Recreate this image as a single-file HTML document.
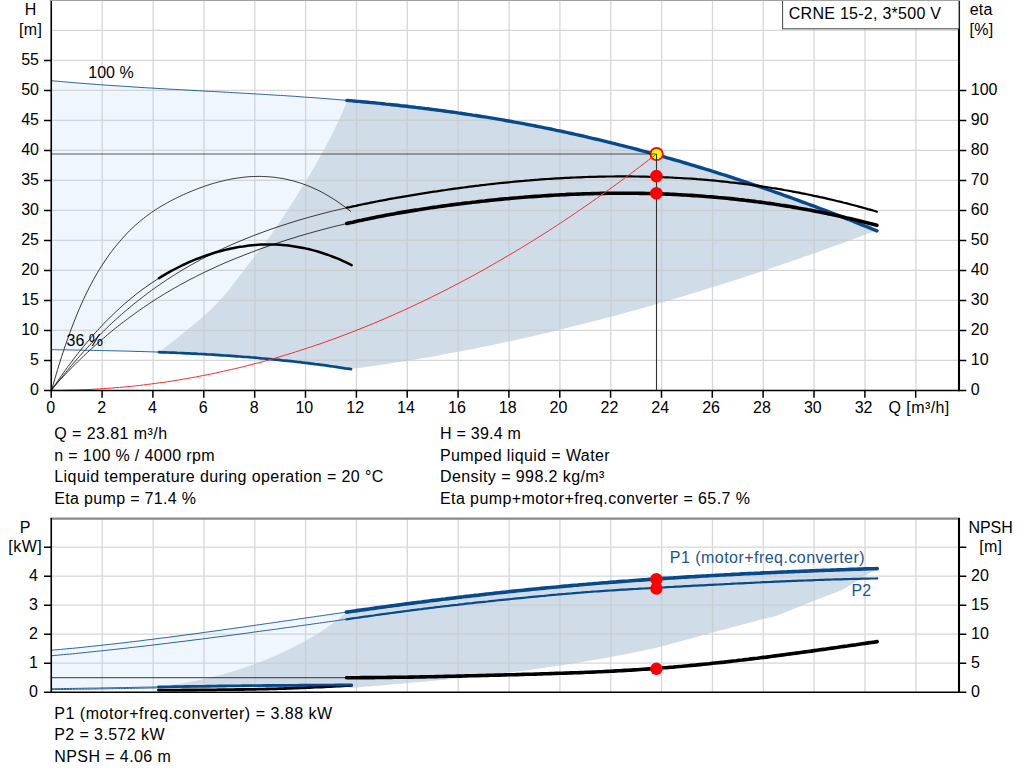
<!DOCTYPE html>
<html lang="en"><head><meta charset="utf-8"><title>CRNE 15-2 pump curve</title>
<style>
html,body{margin:0;padding:0;background:#fff;}
body{width:1024px;height:781px;overflow:hidden;font-family:"Liberation Sans",Arial,Helvetica,sans-serif;}
svg{display:block;position:absolute;left:0;top:0;}
text{font-family:"Liberation Sans",Arial,Helvetica,sans-serif;font-size:16px;}
</style></head><body>
<svg width="1024" height="781" viewBox="0 0 1024 781" role="img" aria-label="Pump performance curves">
<rect x="0" y="0" width="1024" height="781" fill="#ffffff"/>
<path d="M51.6 80.7 L54.6 81.0 L57.6 81.2 L60.6 81.5 L63.7 81.8 L66.7 82.0 L69.7 82.3 L72.7 82.6 L75.7 82.8 L78.7 83.1 L81.7 83.3 L84.7 83.5 L87.8 83.8 L90.8 84.0 L93.8 84.2 L96.8 84.5 L99.8 84.7 L102.8 84.9 L105.8 85.1 L108.9 85.3 L111.9 85.5 L114.9 85.7 L117.9 85.9 L120.9 86.1 L123.9 86.3 L126.9 86.5 L129.9 86.7 L133.0 86.9 L136.0 87.1 L139.0 87.3 L142.0 87.5 L145.0 87.7 L148.0 87.9 L151.0 88.0 L154.1 88.2 L157.1 88.4 L160.1 88.6 L163.1 88.7 L166.1 88.9 L169.1 89.1 L172.1 89.3 L175.1 89.4 L178.2 89.6 L181.2 89.8 L184.2 89.9 L187.2 90.1 L190.2 90.3 L193.2 90.4 L196.2 90.6 L199.2 90.8 L202.3 90.9 L205.3 91.1 L208.3 91.3 L211.3 91.4 L214.3 91.6 L217.3 91.7 L220.3 91.9 L223.4 92.1 L226.4 92.2 L229.4 92.4 L232.4 92.6 L235.4 92.8 L238.4 92.9 L241.4 93.1 L244.4 93.3 L247.5 93.4 L250.5 93.6 L253.5 93.8 L256.5 94.0 L259.5 94.1 L262.5 94.3 L265.5 94.5 L268.6 94.7 L271.6 94.9 L274.6 95.1 L277.6 95.3 L280.6 95.4 L283.6 95.6 L286.6 95.8 L289.6 96.0 L292.7 96.2 L295.7 96.4 L298.7 96.6 L301.7 96.9 L304.7 97.1 L307.7 97.3 L310.7 97.5 L313.8 97.7 L316.8 97.9 L319.8 98.2 L322.8 98.4 L325.8 98.6 L328.8 98.9 L331.8 99.1 L334.8 99.4 L337.9 99.6 L340.9 99.9 L343.9 100.1 L346.9 100.4 L345.7 104.6 L344.0 108.6 L342.2 112.7 L340.4 116.7 L338.5 120.8 L336.6 124.8 L334.7 128.9 L332.7 133.0 L330.6 137.0 L328.5 141.1 L326.4 145.1 L324.2 149.2 L322.0 153.3 L319.7 157.3 L317.4 161.4 L315.1 165.4 L312.7 169.5 L310.4 173.5 L307.9 177.6 L305.5 181.7 L303.0 185.7 L300.5 189.8 L298.0 193.8 L295.4 197.9 L292.8 202.0 L290.2 206.0 L287.6 210.1 L285.0 214.1 L282.3 218.2 L279.6 222.2 L276.8 226.3 L274.0 230.4 L271.2 234.4 L268.3 238.5 L265.3 242.5 L262.2 246.6 L259.0 250.6 L255.9 254.7 L252.7 258.8 L249.5 262.8 L246.4 266.9 L243.3 270.9 L240.2 275.0 L237.2 279.1 L234.1 283.1 L231.0 287.2 L227.7 291.2 L224.3 295.3 L220.7 299.3 L216.9 303.4 L212.9 307.5 L208.6 311.5 L204.2 315.6 L199.6 319.6 L194.8 323.7 L189.9 327.8 L184.9 331.8 L179.8 335.9 L174.7 339.9 L169.4 344.0 L164.2 348.0 L159.0 352.1 L159.0 352.1 L156.0 352.0 L153.0 351.9 L150.1 351.8 L147.1 351.7 L144.1 351.6 L141.1 351.5 L138.1 351.5 L135.1 351.4 L132.2 351.3 L129.2 351.2 L126.2 351.1 L123.2 351.0 L120.2 351.0 L117.2 350.9 L114.2 350.8 L111.3 350.8 L108.3 350.7 L105.3 350.6 L102.3 350.6 L99.3 350.5 L96.3 350.4 L93.4 350.4 L90.4 350.3 L87.4 350.3 L84.4 350.2 L81.4 350.2 L78.5 350.1 L75.5 350.1 L72.5 350.0 L69.5 350.0 L66.5 349.9 L63.5 349.9 L60.5 349.8 L57.6 349.8 L54.6 349.7 L51.6 349.7 Z" fill="#eff6fd"/>
<path d="M51.6 650.2 L54.6 649.9 L57.6 649.7 L60.6 649.4 L63.6 649.1 L66.6 648.8 L69.7 648.5 L72.7 648.3 L75.7 648.0 L78.7 647.7 L81.7 647.4 L84.7 647.1 L87.7 646.7 L90.7 646.4 L93.7 646.1 L96.7 645.8 L99.7 645.5 L102.8 645.1 L105.8 644.8 L108.8 644.5 L111.8 644.1 L114.8 643.8 L117.8 643.5 L120.8 643.1 L123.8 642.8 L126.8 642.4 L129.8 642.0 L132.8 641.7 L135.9 641.3 L138.9 641.0 L141.9 640.6 L144.9 640.2 L147.9 639.8 L150.9 639.5 L153.9 639.1 L156.9 638.7 L159.9 638.3 L162.9 637.9 L165.9 637.6 L169.0 637.2 L172.0 636.8 L175.0 636.4 L178.0 636.0 L181.0 635.6 L184.0 635.2 L187.0 634.8 L190.0 634.4 L193.0 634.0 L196.0 633.6 L199.0 633.2 L202.1 632.8 L205.1 632.3 L208.1 631.9 L211.1 631.5 L214.1 631.1 L217.1 630.7 L220.1 630.3 L223.1 629.8 L226.1 629.4 L229.1 629.0 L232.2 628.6 L235.2 628.1 L238.2 627.7 L241.2 627.3 L244.2 626.9 L247.2 626.4 L250.2 626.0 L253.2 625.6 L256.2 625.1 L259.2 624.7 L262.2 624.3 L265.3 623.8 L268.3 623.4 L271.3 623.0 L274.3 622.5 L277.3 622.1 L280.3 621.7 L283.3 621.2 L286.3 620.8 L289.3 620.4 L292.3 619.9 L295.3 619.5 L298.4 619.0 L301.4 618.6 L304.4 618.2 L307.4 617.7 L310.4 617.3 L313.4 616.9 L316.4 616.4 L319.4 616.0 L322.4 615.6 L325.4 615.1 L328.4 614.7 L331.5 614.3 L334.5 613.8 L337.5 613.4 L340.5 613.0 L343.5 612.6 L346.5 612.1 L342.5 615.6 L338.5 618.9 L334.5 622.1 L330.5 625.0 L326.5 627.8 L322.5 630.5 L318.5 633.0 L314.5 635.5 L310.5 637.8 L306.5 640.1 L302.5 642.4 L298.5 644.5 L294.5 646.6 L290.5 648.6 L286.5 650.6 L282.5 652.4 L278.5 654.3 L274.5 656.0 L270.5 657.8 L266.5 659.4 L262.5 661.0 L258.5 662.6 L254.5 664.1 L250.4 665.5 L246.4 666.9 L242.4 668.3 L238.4 669.6 L234.4 670.9 L230.4 672.1 L226.4 673.3 L222.4 674.4 L218.4 675.4 L214.4 676.5 L210.4 677.5 L206.4 678.4 L202.4 679.3 L198.4 680.2 L194.4 681.0 L190.4 681.8 L186.4 682.5 L182.4 683.2 L178.4 683.8 L174.4 684.5 L170.4 685.0 L166.4 685.6 L162.4 686.1 L158.4 686.8 L158.4 686.9 L155.4 687.0 L152.5 687.0 L149.5 687.1 L146.5 687.1 L143.6 687.2 L140.6 687.2 L137.6 687.3 L134.7 687.4 L131.7 687.4 L128.7 687.5 L125.8 687.5 L122.8 687.6 L119.8 687.6 L116.9 687.7 L113.9 687.7 L110.9 687.8 L108.0 687.8 L105.0 687.9 L102.0 687.9 L99.1 688.0 L96.1 688.1 L93.1 688.1 L90.2 688.1 L87.2 688.2 L84.2 688.2 L81.3 688.3 L78.3 688.3 L75.3 688.4 L72.4 688.4 L69.4 688.5 L66.4 688.5 L63.5 688.5 L60.5 688.6 L57.5 688.6 L54.6 688.7 L51.6 688.7 Z" fill="#eff6fd"/>
<path d="M346.9 100.4 L349.9 100.6 L352.9 100.9 L355.9 101.2 L358.9 101.4 L361.9 101.7 L364.9 102.0 L367.9 102.3 L370.9 102.6 L373.8 102.8 L376.8 103.1 L379.8 103.4 L382.8 103.7 L385.8 104.1 L388.8 104.4 L391.8 104.7 L394.8 105.0 L397.8 105.3 L400.8 105.7 L403.8 106.0 L406.8 106.3 L409.8 106.7 L412.8 107.0 L415.8 107.4 L418.8 107.7 L421.8 108.1 L424.8 108.5 L427.7 108.8 L430.7 109.2 L433.7 109.6 L436.7 110.0 L439.7 110.4 L442.7 110.8 L445.7 111.2 L448.7 111.6 L451.7 112.0 L454.7 112.4 L457.7 112.9 L460.7 113.3 L463.7 113.7 L466.7 114.2 L469.7 114.6 L472.7 115.1 L475.7 115.5 L478.7 116.0 L481.6 116.5 L484.6 116.9 L487.6 117.4 L490.6 117.9 L493.6 118.4 L496.6 118.9 L499.6 119.4 L502.6 119.9 L505.6 120.5 L508.6 121.0 L511.6 121.5 L514.6 122.1 L517.6 122.6 L520.6 123.1 L523.6 123.7 L526.6 124.3 L529.6 124.8 L532.5 125.4 L535.5 126.0 L538.5 126.6 L541.5 127.2 L544.5 127.8 L547.5 128.4 L550.5 129.0 L553.5 129.6 L556.5 130.3 L559.5 130.9 L562.5 131.5 L565.5 132.2 L568.5 132.8 L571.5 133.5 L574.5 134.2 L577.5 134.8 L580.5 135.5 L583.5 136.2 L586.4 136.9 L589.4 137.6 L592.4 138.3 L595.4 139.0 L598.4 139.7 L601.4 140.4 L604.4 141.1 L607.4 141.9 L610.4 142.6 L613.4 143.4 L616.4 144.1 L619.4 144.9 L622.4 145.6 L625.4 146.4 L628.4 147.2 L631.4 147.9 L634.4 148.7 L637.4 149.5 L640.3 150.3 L643.3 151.1 L646.3 151.9 L649.3 152.7 L652.3 153.6 L655.3 154.4 L658.3 155.2 L661.3 156.1 L664.3 156.9 L667.3 157.8 L670.3 158.6 L673.3 159.5 L676.3 160.3 L679.3 161.2 L682.3 162.1 L685.3 163.0 L688.3 163.9 L691.3 164.8 L694.2 165.7 L697.2 166.6 L700.2 167.5 L703.2 168.4 L706.2 169.3 L709.2 170.2 L712.2 171.2 L715.2 172.1 L718.2 173.1 L721.2 174.0 L724.2 175.0 L727.2 175.9 L730.2 176.9 L733.2 177.9 L736.2 178.9 L739.2 179.8 L742.2 180.8 L745.1 181.8 L748.1 182.8 L751.1 183.8 L754.1 184.9 L757.1 185.9 L760.1 186.9 L763.1 187.9 L766.1 189.0 L769.1 190.0 L772.1 191.0 L775.1 192.1 L778.1 193.1 L781.1 194.2 L784.1 195.3 L787.1 196.3 L790.1 197.4 L793.1 198.5 L796.1 199.6 L799.0 200.7 L802.0 201.8 L805.0 202.9 L808.0 204.0 L811.0 205.1 L814.0 206.2 L817.0 207.3 L820.0 208.5 L823.0 209.6 L826.0 210.7 L829.0 211.9 L832.0 213.0 L835.0 214.2 L838.0 215.4 L841.0 216.5 L844.0 217.7 L847.0 218.9 L850.0 220.0 L852.9 221.2 L855.9 222.4 L858.9 223.6 L861.9 224.8 L864.9 226.0 L867.9 227.2 L870.9 228.4 L873.9 229.7 L876.9 230.9 L872.9 231.8 L868.9 233.3 L864.9 234.8 L860.8 236.3 L856.8 237.8 L852.8 239.3 L848.8 240.8 L844.8 242.2 L840.8 243.7 L836.8 245.2 L832.7 246.6 L828.7 248.1 L824.7 249.5 L820.7 250.9 L816.7 252.4 L812.7 253.8 L808.7 255.2 L804.6 256.6 L800.6 258.0 L796.6 259.4 L792.6 260.8 L788.6 262.2 L784.6 263.6 L780.6 265.0 L776.5 266.3 L772.5 267.7 L768.5 269.1 L764.5 270.4 L760.5 271.7 L756.5 273.1 L752.5 274.4 L748.4 275.7 L744.4 277.0 L740.4 278.4 L736.4 279.7 L732.4 281.0 L728.4 282.2 L724.3 283.5 L720.3 284.8 L716.3 286.1 L712.3 287.3 L708.3 288.6 L704.3 289.8 L700.3 291.1 L696.2 292.3 L692.2 293.5 L688.2 294.7 L684.2 295.9 L680.2 297.1 L676.2 298.3 L672.2 299.5 L668.1 300.7 L664.1 301.9 L660.1 303.1 L656.1 304.2 L652.1 305.4 L648.1 306.5 L644.1 307.7 L640.0 308.8 L636.0 309.9 L632.0 311.0 L628.0 312.1 L624.0 313.2 L620.0 314.3 L616.0 315.4 L611.9 316.5 L607.9 317.6 L603.9 318.6 L599.9 319.7 L595.9 320.7 L591.9 321.8 L587.9 322.8 L583.8 323.8 L579.8 324.8 L575.8 325.8 L571.8 326.8 L567.8 327.8 L563.8 328.8 L559.8 329.8 L555.7 330.8 L551.7 331.7 L547.7 332.7 L543.7 333.6 L539.7 334.6 L535.7 335.5 L531.7 336.4 L527.6 337.3 L523.6 338.2 L519.6 339.1 L515.6 340.0 L511.6 340.9 L507.6 341.8 L503.6 342.6 L499.5 343.5 L495.5 344.3 L491.5 345.2 L487.5 346.0 L483.5 346.8 L479.5 347.6 L475.4 348.4 L471.4 349.2 L467.4 350.0 L463.4 350.8 L459.4 351.6 L455.4 352.3 L451.4 353.1 L447.3 353.8 L443.3 354.6 L439.3 355.3 L435.3 356.0 L431.3 356.7 L427.3 357.4 L423.3 358.1 L419.2 358.8 L415.2 359.5 L411.2 360.1 L407.2 360.8 L403.2 361.4 L399.2 362.1 L395.2 362.7 L391.1 363.3 L387.1 363.9 L383.1 364.5 L379.1 365.1 L375.1 365.7 L371.1 366.3 L367.1 366.8 L363.0 367.4 L359.0 367.9 L355.0 368.5 L351.0 369.1 L351.0 369.2 L348.0 368.7 L345.0 368.3 L342.0 367.8 L339.0 367.4 L336.0 366.9 L333.0 366.5 L330.0 366.1 L327.0 365.6 L324.0 365.2 L321.0 364.8 L318.0 364.4 L315.0 364.1 L312.0 363.7 L309.0 363.3 L306.0 362.9 L303.0 362.6 L300.0 362.2 L297.0 361.9 L294.0 361.5 L291.0 361.2 L288.0 360.9 L285.0 360.6 L282.0 360.3 L279.0 359.9 L276.0 359.7 L273.0 359.4 L270.0 359.1 L267.0 358.8 L264.0 358.5 L261.0 358.3 L258.0 358.0 L255.0 357.7 L252.0 357.5 L249.0 357.2 L246.0 357.0 L243.0 356.8 L240.0 356.5 L237.0 356.3 L234.0 356.1 L231.0 355.9 L228.0 355.7 L225.0 355.5 L222.0 355.3 L219.0 355.1 L216.0 354.9 L213.0 354.7 L210.0 354.5 L207.0 354.4 L204.0 354.2 L201.0 354.0 L198.0 353.9 L195.0 353.7 L192.0 353.6 L189.0 353.4 L186.0 353.3 L183.0 353.1 L180.0 353.0 L177.0 352.9 L174.0 352.7 L171.0 352.6 L168.0 352.5 L165.0 352.4 L162.0 352.3 L159.0 352.1 L164.2 348.0 L169.4 344.0 L174.7 339.9 L179.8 335.9 L184.9 331.8 L189.9 327.8 L194.8 323.7 L199.6 319.6 L204.2 315.6 L208.6 311.5 L212.9 307.5 L216.9 303.4 L220.7 299.3 L224.3 295.3 L227.7 291.2 L231.0 287.2 L234.1 283.1 L237.2 279.1 L240.2 275.0 L243.3 270.9 L246.4 266.9 L249.5 262.8 L252.7 258.8 L255.9 254.7 L259.0 250.6 L262.2 246.6 L265.3 242.5 L268.3 238.5 L271.2 234.4 L274.0 230.4 L276.8 226.3 L279.6 222.2 L282.3 218.2 L285.0 214.1 L287.6 210.1 L290.2 206.0 L292.8 202.0 L295.4 197.9 L298.0 193.8 L300.5 189.8 L303.0 185.7 L305.5 181.7 L307.9 177.6 L310.4 173.5 L312.7 169.5 L315.1 165.4 L317.4 161.4 L319.7 157.3 L322.0 153.3 L324.2 149.2 L326.4 145.1 L328.5 141.1 L330.6 137.0 L332.7 133.0 L334.7 128.9 L336.6 124.8 L338.5 120.8 L340.4 116.7 L342.2 112.7 L344.0 108.6 L345.7 104.6 L346.9 100.5 Z" fill="#d0dce8"/>
<path d="M346.5 612.1 L349.5 611.7 L352.5 611.3 L355.5 610.9 L358.5 610.4 L361.5 610.0 L364.5 609.6 L367.5 609.2 L370.5 608.8 L373.5 608.4 L376.5 607.9 L379.5 607.5 L382.5 607.1 L385.5 606.7 L388.5 606.3 L391.5 605.9 L394.5 605.5 L397.5 605.1 L400.5 604.7 L403.5 604.3 L406.5 603.9 L409.5 603.5 L412.5 603.1 L415.5 602.7 L418.5 602.3 L421.5 602.0 L424.5 601.6 L427.5 601.2 L430.5 600.8 L433.5 600.4 L436.4 600.1 L439.4 599.7 L442.4 599.3 L445.4 599.0 L448.4 598.6 L451.4 598.2 L454.4 597.9 L457.4 597.5 L460.4 597.1 L463.4 596.8 L466.4 596.4 L469.4 596.1 L472.4 595.7 L475.4 595.4 L478.4 595.1 L481.4 594.7 L484.4 594.4 L487.4 594.0 L490.4 593.7 L493.4 593.4 L496.4 593.0 L499.4 592.7 L502.4 592.4 L505.4 592.1 L508.4 591.7 L511.4 591.4 L514.4 591.1 L517.4 590.8 L520.4 590.5 L523.4 590.2 L526.4 589.9 L529.4 589.6 L532.4 589.3 L535.4 589.0 L538.4 588.7 L541.4 588.4 L544.4 588.1 L547.4 587.8 L550.4 587.5 L553.4 587.2 L556.4 587.0 L559.4 586.7 L562.4 586.4 L565.4 586.1 L568.4 585.9 L571.4 585.6 L574.4 585.3 L577.4 585.1 L580.4 584.8 L583.4 584.5 L586.4 584.3 L589.4 584.0 L592.4 583.8 L595.4 583.5 L598.4 583.3 L601.4 583.0 L604.4 582.8 L607.4 582.6 L610.4 582.3 L613.3 582.1 L616.3 581.9 L619.3 581.6 L622.3 581.4 L625.3 581.2 L628.3 581.0 L631.3 580.7 L634.3 580.5 L637.3 580.3 L640.3 580.1 L643.3 579.9 L646.3 579.7 L649.3 579.4 L652.3 579.2 L655.3 579.0 L658.3 578.8 L661.3 578.6 L664.3 578.4 L667.3 578.2 L670.3 578.0 L673.3 577.9 L676.3 577.7 L679.3 577.5 L682.3 577.3 L685.3 577.1 L688.3 576.9 L691.3 576.7 L694.3 576.6 L697.3 576.4 L700.3 576.2 L703.3 576.0 L706.3 575.9 L709.3 575.7 L712.3 575.5 L715.3 575.4 L718.3 575.2 L721.3 575.0 L724.3 574.9 L727.3 574.7 L730.3 574.6 L733.3 574.4 L736.3 574.2 L739.3 574.1 L742.3 573.9 L745.3 573.8 L748.3 573.6 L751.3 573.5 L754.3 573.4 L757.3 573.2 L760.3 573.1 L763.3 572.9 L766.3 572.8 L769.3 572.7 L772.3 572.5 L775.3 572.4 L778.3 572.2 L781.3 572.1 L784.3 572.0 L787.3 571.9 L790.2 571.7 L793.2 571.6 L796.2 571.5 L799.2 571.4 L802.2 571.2 L805.2 571.1 L808.2 571.0 L811.2 570.9 L814.2 570.8 L817.2 570.6 L820.2 570.5 L823.2 570.4 L826.2 570.3 L829.2 570.2 L832.2 570.1 L835.2 570.0 L838.2 569.9 L841.2 569.8 L844.2 569.7 L847.2 569.5 L850.2 569.4 L853.2 569.3 L856.2 569.2 L859.2 569.1 L862.2 569.0 L865.2 568.9 L868.2 568.8 L871.2 568.7 L874.2 568.7 L877.2 568.6 L865.0 576.0 L841.5 590.2 L814.1 600.8 L775.9 616.0 L763.3 619.1 L712.4 632.4 L661.6 646.5 L657.6 647.5 L653.5 648.4 L649.5 649.3 L645.5 650.1 L641.5 651.0 L637.4 651.8 L633.4 652.6 L629.4 653.4 L625.4 654.2 L621.3 655.0 L617.3 655.8 L613.3 656.5 L609.3 657.3 L605.2 658.0 L601.2 658.7 L597.2 659.4 L593.2 660.1 L589.1 660.8 L585.1 661.5 L581.1 662.2 L577.1 662.8 L573.0 663.5 L569.0 664.1 L565.0 664.7 L561.0 665.3 L556.9 665.9 L552.9 666.5 L548.9 667.1 L544.8 667.7 L540.8 668.3 L536.8 668.8 L532.8 669.4 L528.7 669.9 L524.7 670.5 L520.7 671.0 L516.7 671.5 L512.6 672.0 L508.6 672.5 L504.6 673.0 L500.6 673.5 L496.5 674.0 L492.5 674.5 L488.5 674.9 L484.5 675.4 L480.4 675.9 L476.4 676.3 L472.4 676.7 L468.4 677.2 L464.3 677.6 L460.3 678.0 L456.3 678.4 L452.2 678.9 L448.2 679.3 L444.2 679.7 L440.2 680.1 L436.1 680.5 L432.1 680.8 L428.1 681.2 L424.1 681.6 L420.0 682.0 L416.0 682.3 L412.0 682.7 L408.0 683.1 L403.9 683.4 L399.9 683.8 L395.9 684.1 L391.9 684.5 L387.8 684.8 L383.8 685.2 L379.8 685.5 L375.8 685.8 L371.7 686.2 L367.7 686.5 L363.7 686.8 L359.7 687.2 L355.6 687.5 L351.6 687.9 L351.6 687.7 L348.6 687.6 L345.6 687.6 L342.5 687.6 L339.5 687.6 L336.5 687.5 L333.5 687.5 L330.5 687.5 L327.5 687.4 L324.4 687.4 L321.4 687.4 L318.4 687.4 L315.4 687.3 L312.4 687.3 L309.3 687.3 L306.3 687.2 L303.3 687.2 L300.3 687.2 L297.3 687.2 L294.2 687.2 L291.2 687.1 L288.2 687.1 L285.2 687.1 L282.2 687.1 L279.2 687.0 L276.1 687.0 L273.1 687.0 L270.1 687.0 L267.1 687.0 L264.1 687.0 L261.0 686.9 L258.0 686.9 L255.0 686.9 L252.0 686.9 L249.0 686.9 L245.9 686.9 L242.9 686.9 L239.9 686.9 L236.9 686.9 L233.9 686.8 L230.9 686.8 L227.8 686.8 L224.8 686.8 L221.8 686.8 L218.8 686.8 L215.8 686.8 L212.7 686.8 L209.7 686.8 L206.7 686.8 L203.7 686.8 L200.7 686.8 L197.6 686.8 L194.6 686.8 L191.6 686.8 L188.6 686.8 L185.6 686.8 L182.6 686.8 L179.5 686.8 L176.5 686.9 L173.5 686.9 L170.5 686.9 L167.5 686.9 L164.4 686.9 L161.4 686.9 L158.4 686.9 L162.4 686.1 L166.4 685.6 L170.4 685.0 L174.4 684.5 L178.4 683.8 L182.4 683.2 L186.4 682.5 L190.4 681.8 L194.4 681.0 L198.4 680.2 L202.4 679.3 L206.4 678.4 L210.4 677.5 L214.4 676.5 L218.4 675.4 L222.4 674.4 L226.4 673.3 L230.4 672.1 L234.4 670.9 L238.4 669.6 L242.4 668.3 L246.4 666.9 L250.4 665.5 L254.5 664.1 L258.5 662.6 L262.5 661.0 L266.5 659.4 L270.5 657.8 L274.5 656.0 L278.5 654.3 L282.5 652.4 L286.5 650.6 L290.5 648.6 L294.5 646.6 L298.5 644.5 L302.5 642.4 L306.5 640.1 L310.5 637.8 L314.5 635.5 L318.5 633.0 L322.5 630.5 L326.5 627.8 L330.5 625.0 L334.5 622.1 L338.5 618.9 L342.5 615.6 L346.5 611.6 Z" fill="#d0dce8"/>
<path d="M102.2 0V390.4M102.2 518.4V692.2M153.1 0V390.4M153.1 518.4V692.2M204.0 0V390.4M204.0 518.4V692.2M254.8 0V390.4M254.8 518.4V692.2M305.6 0V390.4M305.6 518.4V692.2M356.5 0V390.4M356.5 518.4V692.2M407.3 0V390.4M407.3 518.4V692.2M458.2 0V390.4M458.2 518.4V692.2M509.1 0V390.4M509.1 518.4V692.2M559.9 0V390.4M559.9 518.4V692.2M610.8 0V390.4M610.8 518.4V692.2M661.6 0V390.4M661.6 518.4V692.2M712.5 0V390.4M712.5 518.4V692.2M763.3 0V390.4M763.3 518.4V692.2M814.1 0V390.4M814.1 518.4V692.2M865.0 0V390.4M865.0 518.4V692.2M915.9 0V390.4M915.9 518.4V692.2M51.6 360.4H959.0M51.6 330.4H959.0M51.6 300.4H959.0M51.6 270.4H959.0M51.6 240.4H959.0M51.6 210.4H959.0M51.6 180.4H959.0M51.6 150.4H959.0M51.6 120.4H959.0M51.6 90.4H959.0M51.6 60.4H959.0M51.6 30.4H959.0M51.6 663.2H959.0M51.6 634.2H959.0M51.6 605.2H959.0M51.6 576.2H959.0M51.6 547.2H959.0" stroke="rgb(198,201,204)" stroke-opacity="0.74" stroke-width="1.3" fill="none"/>
<path d="M50.5 518.6H960" stroke="#8a8a8a" stroke-width="2.2" fill="none"/>
<path d="M51.6 80.7 L54.6 81.0 L57.6 81.2 L60.6 81.5 L63.7 81.8 L66.7 82.0 L69.7 82.3 L72.7 82.6 L75.7 82.8 L78.7 83.1 L81.7 83.3 L84.7 83.5 L87.8 83.8 L90.8 84.0 L93.8 84.2 L96.8 84.5 L99.8 84.7 L102.8 84.9 L105.8 85.1 L108.9 85.3 L111.9 85.5 L114.9 85.7 L117.9 85.9 L120.9 86.1 L123.9 86.3 L126.9 86.5 L129.9 86.7 L133.0 86.9 L136.0 87.1 L139.0 87.3 L142.0 87.5 L145.0 87.7 L148.0 87.9 L151.0 88.0 L154.1 88.2 L157.1 88.4 L160.1 88.6 L163.1 88.7 L166.1 88.9 L169.1 89.1 L172.1 89.3 L175.1 89.4 L178.2 89.6 L181.2 89.8 L184.2 89.9 L187.2 90.1 L190.2 90.3 L193.2 90.4 L196.2 90.6 L199.2 90.8 L202.3 90.9 L205.3 91.1 L208.3 91.3 L211.3 91.4 L214.3 91.6 L217.3 91.7 L220.3 91.9 L223.4 92.1 L226.4 92.2 L229.4 92.4 L232.4 92.6 L235.4 92.8 L238.4 92.9 L241.4 93.1 L244.4 93.3 L247.5 93.4 L250.5 93.6 L253.5 93.8 L256.5 94.0 L259.5 94.1 L262.5 94.3 L265.5 94.5 L268.6 94.7 L271.6 94.9 L274.6 95.1 L277.6 95.3 L280.6 95.4 L283.6 95.6 L286.6 95.8 L289.6 96.0 L292.7 96.2 L295.7 96.4 L298.7 96.6 L301.7 96.9 L304.7 97.1 L307.7 97.3 L310.7 97.5 L313.8 97.7 L316.8 97.9 L319.8 98.2 L322.8 98.4 L325.8 98.6 L328.8 98.9 L331.8 99.1 L334.8 99.4 L337.9 99.6 L340.9 99.9 L343.9 100.1 L346.9 100.4" stroke="#064a8c" stroke-opacity="0.85" stroke-width="1" fill="none"/>
<path d="M51.6 349.7 L54.6 349.7 L57.6 349.8 L60.5 349.8 L63.5 349.9 L66.5 349.9 L69.5 350.0 L72.5 350.0 L75.5 350.1 L78.5 350.1 L81.4 350.2 L84.4 350.2 L87.4 350.3 L90.4 350.3 L93.4 350.4 L96.3 350.4 L99.3 350.5 L102.3 350.6 L105.3 350.6 L108.3 350.7 L111.3 350.8 L114.2 350.8 L117.2 350.9 L120.2 351.0 L123.2 351.0 L126.2 351.1 L129.2 351.2 L132.2 351.3 L135.1 351.4 L138.1 351.5 L141.1 351.5 L144.1 351.6 L147.1 351.7 L150.1 351.8 L153.0 351.9 L156.0 352.0 L159.0 352.1" stroke="#064a8c" stroke-opacity="0.85" stroke-width="1" fill="none"/>
<path d="M51.6 390.2 L53.6 387.6 L55.6 385.0 L57.6 382.5 L59.6 379.9 L61.6 377.5 L63.6 375.0 L65.6 372.6 L67.6 370.2 L69.6 367.8 L71.5 365.4 L73.5 363.1 L75.5 360.8 L77.5 358.5 L79.5 356.3 L81.5 354.0 L83.5 351.8 L85.5 349.7 L87.5 347.5 L89.5 345.4 L91.5 343.3 L93.5 341.2 L95.5 339.2 L97.5 337.1 L99.5 335.1 L101.5 333.1 L103.5 331.2 L105.5 329.2 L107.4 327.3 L109.4 325.4 L111.4 323.6 L113.4 321.7 L115.4 319.9 L117.4 318.1 L119.4 316.3 L121.4 314.5 L123.4 312.8 L125.4 311.1 L127.4 309.4 L129.4 307.7 L131.4 306.1 L133.4 304.4 L135.4 302.8 L137.4 301.2 L139.4 299.6 L141.4 298.1 L143.4 296.5 L145.3 295.0 L147.3 293.5 L149.3 292.0 L151.3 290.6 L153.3 289.1 L155.3 287.7 L157.3 286.3 L159.3 284.9 L161.3 283.5 L163.3 282.2 L165.3 280.8 L167.3 279.5 L169.3 278.2 L171.3 276.9 L173.3 275.6 L175.3 274.4 L177.3 273.1 L179.3 271.9 L181.2 270.7 L183.2 269.5 L185.2 268.3 L187.2 267.2 L189.2 266.0 L191.2 264.9 L193.2 263.8 L195.2 262.7 L197.2 261.6 L199.2 260.5 L201.2 259.4 L203.2 258.4 L205.2 257.3 L207.2 256.3 L209.2 255.3 L211.2 254.3 L213.2 253.3 L215.2 252.3 L217.2 251.4 L219.1 250.4 L221.1 249.5 L223.1 248.5 L225.1 247.6 L227.1 246.7 L229.1 245.8 L231.1 244.9 L233.1 244.1 L235.1 243.2 L237.1 242.3 L239.1 241.5 L241.1 240.7 L243.1 239.8 L245.1 239.0 L247.1 238.2 L249.1 237.4 L251.1 236.6 L253.1 235.8 L255.0 235.1 L257.0 234.3 L259.0 233.6 L261.0 232.8 L263.0 232.1 L265.0 231.3 L267.0 230.6 L269.0 229.9 L271.0 229.2 L273.0 228.5 L275.0 227.8 L277.0 227.1 L279.0 226.5 L281.0 225.8 L283.0 225.2 L285.0 224.5 L287.0 223.9 L289.0 223.2 L291.0 222.6 L292.9 222.0 L294.9 221.4 L296.9 220.8 L298.9 220.2 L300.9 219.6 L302.9 219.0 L304.9 218.4 L306.9 217.9 L308.9 217.3 L310.9 216.7 L312.9 216.2 L314.9 215.6 L316.9 215.1 L318.9 214.6 L320.9 214.0 L322.9 213.5 L324.9 213.0 L326.9 212.5 L328.8 212.0 L330.8 211.5 L332.8 211.0 L334.8 210.5 L336.8 210.1 L338.8 209.6 L340.8 209.1 L342.8 208.7 L344.8 208.2 L346.8 207.7" stroke="#222" stroke-width="0.9" fill="none"/>
<path d="M51.6 389.2 L53.6 387.0 L55.6 384.8 L57.6 382.6 L59.6 380.4 L61.6 378.3 L63.6 376.2 L65.6 374.1 L67.6 372.0 L69.6 370.0 L71.5 367.9 L73.5 365.9 L75.5 363.9 L77.5 361.9 L79.5 360.0 L81.5 358.1 L83.5 356.2 L85.5 354.3 L87.5 352.4 L89.5 350.6 L91.5 348.7 L93.5 346.9 L95.5 345.1 L97.5 343.4 L99.5 341.6 L101.5 339.9 L103.5 338.2 L105.5 336.5 L107.4 334.8 L109.4 333.1 L111.4 331.5 L113.4 329.9 L115.4 328.2 L117.4 326.7 L119.4 325.1 L121.4 323.5 L123.4 322.0 L125.4 320.5 L127.4 319.0 L129.4 317.5 L131.4 316.0 L133.4 314.6 L135.4 313.1 L137.4 311.7 L139.4 310.3 L141.4 308.9 L143.4 307.6 L145.3 306.2 L147.3 304.9 L149.3 303.5 L151.3 302.2 L153.3 300.9 L155.3 299.6 L157.3 298.4 L159.3 297.1 L161.3 295.9 L163.3 294.7 L165.3 293.4 L167.3 292.2 L169.3 291.1 L171.3 289.9 L173.3 288.7 L175.3 287.6 L177.3 286.5 L179.3 285.3 L181.2 284.2 L183.2 283.2 L185.2 282.1 L187.2 281.0 L189.2 279.9 L191.2 278.9 L193.2 277.9 L195.2 276.9 L197.2 275.8 L199.2 274.8 L201.2 273.9 L203.2 272.9 L205.2 271.9 L207.2 271.0 L209.2 270.0 L211.2 269.1 L213.2 268.2 L215.2 267.3 L217.2 266.4 L219.1 265.5 L221.1 264.6 L223.1 263.7 L225.1 262.8 L227.1 262.0 L229.1 261.1 L231.1 260.3 L233.1 259.5 L235.1 258.7 L237.1 257.9 L239.1 257.1 L241.1 256.3 L243.1 255.5 L245.1 254.7 L247.1 253.9 L249.1 253.2 L251.1 252.4 L253.1 251.7 L255.0 250.9 L257.0 250.2 L259.0 249.4 L261.0 248.7 L263.0 248.0 L265.0 247.3 L267.0 246.6 L269.0 245.9 L271.0 245.2 L273.0 244.5 L275.0 243.9 L277.0 243.2 L279.0 242.5 L281.0 241.9 L283.0 241.2 L285.0 240.6 L287.0 239.9 L289.0 239.3 L291.0 238.7 L292.9 238.1 L294.9 237.5 L296.9 236.8 L298.9 236.2 L300.9 235.7 L302.9 235.1 L304.9 234.5 L306.9 233.9 L308.9 233.3 L310.9 232.8 L312.9 232.2 L314.9 231.7 L316.9 231.1 L318.9 230.6 L320.9 230.0 L322.9 229.5 L324.9 229.0 L326.9 228.4 L328.8 227.9 L330.8 227.4 L332.8 226.9 L334.8 226.4 L336.8 225.9 L338.8 225.4 L340.8 225.0 L342.8 224.5 L344.8 224.0 L346.8 223.5" stroke="#222" stroke-width="0.9" fill="none"/>
<path d="M51.6 390.2 L53.6 383.1 L55.6 376.2 L57.6 369.5 L59.6 363.0 L61.6 356.7 L63.6 350.6 L65.6 344.7 L67.6 339.0 L69.6 333.5 L71.6 328.1 L73.6 322.9 L75.6 317.9 L77.5 313.0 L79.5 308.4 L81.5 303.8 L83.5 299.4 L85.5 295.2 L87.5 291.1 L89.5 287.1 L91.5 283.3 L93.5 279.6 L95.5 276.0 L97.5 272.6 L99.5 269.3 L101.5 266.1 L103.5 263.0 L105.5 260.0 L107.5 257.1 L109.5 254.3 L111.5 251.6 L113.5 249.0 L115.5 246.5 L117.5 244.0 L119.5 241.7 L121.5 239.4 L123.5 237.2 L125.5 235.0 L127.4 232.9 L129.4 230.9 L131.4 229.0 L133.4 227.1 L135.4 225.2 L137.4 223.5 L139.4 221.8 L141.4 220.1 L143.4 218.5 L145.4 216.9 L147.4 215.4 L149.4 214.0 L151.4 212.5 L153.4 211.2 L155.4 209.8 L157.4 208.6 L159.4 207.3 L161.4 206.1 L163.4 204.9 L165.4 203.8 L167.4 202.7 L169.4 201.6 L171.4 200.5 L173.4 199.5 L175.4 198.5 L177.3 197.6 L179.3 196.6 L181.3 195.7 L183.3 194.7 L185.3 193.9 L187.3 193.0 L189.3 192.1 L191.3 191.3 L193.3 190.5 L195.3 189.7 L197.3 188.9 L199.3 188.1 L201.3 187.4 L203.3 186.7 L205.3 186.0 L207.3 185.3 L209.3 184.7 L211.3 184.0 L213.3 183.4 L215.3 182.9 L217.3 182.3 L219.3 181.8 L221.3 181.3 L223.3 180.8 L225.3 180.3 L227.2 179.9 L229.2 179.5 L231.2 179.1 L233.2 178.7 L235.2 178.4 L237.2 178.1 L239.2 177.8 L241.2 177.5 L243.2 177.3 L245.2 177.1 L247.2 176.9 L249.2 176.7 L251.2 176.6 L253.2 176.5 L255.2 176.5 L257.2 176.4 L259.2 176.4 L261.2 176.4 L263.2 176.5 L265.2 176.6 L267.2 176.7 L269.2 176.8 L271.2 177.0 L273.2 177.2 L275.2 177.4 L277.1 177.7 L279.1 178.0 L281.1 178.3 L283.1 178.6 L285.1 179.0 L287.1 179.4 L289.1 179.9 L291.1 180.4 L293.1 180.9 L295.1 181.5 L297.1 182.1 L299.1 182.7 L301.1 183.3 L303.1 184.0 L305.1 184.7 L307.1 185.5 L309.1 186.3 L311.1 187.1 L313.1 188.0 L315.1 188.9 L317.1 189.8 L319.1 190.8 L321.1 191.8 L323.1 192.9 L325.1 194.0 L327.0 195.1 L329.0 196.3 L331.0 197.5 L333.0 198.7 L335.0 200.0 L337.0 201.3 L339.0 202.7 L341.0 204.1 L343.0 205.5 L345.0 207.0 L347.0 208.5 L349.0 210.1 L351.0 211.7" stroke="#222" stroke-width="0.9" fill="none"/>
<path d="M51.6 390.1 L53.6 387.1 L55.6 384.1 L57.6 381.2 L59.5 378.3 L61.5 375.5 L63.5 372.7 L65.5 369.9 L67.5 367.2 L69.5 364.5 L71.5 361.8 L73.5 359.2 L75.4 356.6 L77.4 354.1 L79.4 351.6 L81.4 349.1 L83.4 346.7 L85.4 344.3 L87.4 341.9 L89.4 339.6 L91.3 337.3 L93.3 335.0 L95.3 332.8 L97.3 330.6 L99.3 328.5 L101.3 326.3 L103.3 324.2 L105.2 322.2 L107.2 320.2 L109.2 318.2 L111.2 316.2 L113.2 314.3 L115.2 312.4 L117.2 310.5 L119.2 308.7 L121.1 306.9 L123.1 305.1 L125.1 303.4 L127.1 301.7 L129.1 300.0 L131.1 298.3 L133.1 296.7 L135.1 295.1 L137.0 293.5 L139.0 292.0 L141.0 290.5 L143.0 289.0 L145.0 287.6 L147.0 286.2 L149.0 284.8 L151.0 283.4 L152.9 282.1 L154.9 280.8 L156.9 279.5 L158.9 278.2" stroke="#222" stroke-width="0.9" fill="none"/>
<path d="M346.9 100.4 L349.9 100.6 L352.9 100.9 L355.9 101.2 L358.9 101.4 L361.9 101.7 L364.9 102.0 L367.9 102.3 L370.9 102.6 L373.8 102.8 L376.8 103.1 L379.8 103.4 L382.8 103.7 L385.8 104.1 L388.8 104.4 L391.8 104.7 L394.8 105.0 L397.8 105.3 L400.8 105.7 L403.8 106.0 L406.8 106.3 L409.8 106.7 L412.8 107.0 L415.8 107.4 L418.8 107.7 L421.8 108.1 L424.8 108.5 L427.7 108.8 L430.7 109.2 L433.7 109.6 L436.7 110.0 L439.7 110.4 L442.7 110.8 L445.7 111.2 L448.7 111.6 L451.7 112.0 L454.7 112.4 L457.7 112.9 L460.7 113.3 L463.7 113.7 L466.7 114.2 L469.7 114.6 L472.7 115.1 L475.7 115.5 L478.7 116.0 L481.6 116.5 L484.6 116.9 L487.6 117.4 L490.6 117.9 L493.6 118.4 L496.6 118.9 L499.6 119.4 L502.6 119.9 L505.6 120.5 L508.6 121.0 L511.6 121.5 L514.6 122.1 L517.6 122.6 L520.6 123.1 L523.6 123.7 L526.6 124.3 L529.6 124.8 L532.5 125.4 L535.5 126.0 L538.5 126.6 L541.5 127.2 L544.5 127.8 L547.5 128.4 L550.5 129.0 L553.5 129.6 L556.5 130.3 L559.5 130.9 L562.5 131.5 L565.5 132.2 L568.5 132.8 L571.5 133.5 L574.5 134.2 L577.5 134.8 L580.5 135.5 L583.5 136.2 L586.4 136.9 L589.4 137.6 L592.4 138.3 L595.4 139.0 L598.4 139.7 L601.4 140.4 L604.4 141.1 L607.4 141.9 L610.4 142.6 L613.4 143.4 L616.4 144.1 L619.4 144.9 L622.4 145.6 L625.4 146.4 L628.4 147.2 L631.4 147.9 L634.4 148.7 L637.4 149.5 L640.3 150.3 L643.3 151.1 L646.3 151.9 L649.3 152.7 L652.3 153.6 L655.3 154.4 L658.3 155.2 L661.3 156.1 L664.3 156.9 L667.3 157.8 L670.3 158.6 L673.3 159.5 L676.3 160.3 L679.3 161.2 L682.3 162.1 L685.3 163.0 L688.3 163.9 L691.3 164.8 L694.2 165.7 L697.2 166.6 L700.2 167.5 L703.2 168.4 L706.2 169.3 L709.2 170.2 L712.2 171.2 L715.2 172.1 L718.2 173.1 L721.2 174.0 L724.2 175.0 L727.2 175.9 L730.2 176.9 L733.2 177.9 L736.2 178.9 L739.2 179.8 L742.2 180.8 L745.1 181.8 L748.1 182.8 L751.1 183.8 L754.1 184.9 L757.1 185.9 L760.1 186.9 L763.1 187.9 L766.1 189.0 L769.1 190.0 L772.1 191.0 L775.1 192.1 L778.1 193.1 L781.1 194.2 L784.1 195.3 L787.1 196.3 L790.1 197.4 L793.1 198.5 L796.1 199.6 L799.0 200.7 L802.0 201.8 L805.0 202.9 L808.0 204.0 L811.0 205.1 L814.0 206.2 L817.0 207.3 L820.0 208.5 L823.0 209.6 L826.0 210.7 L829.0 211.9 L832.0 213.0 L835.0 214.2 L838.0 215.4 L841.0 216.5 L844.0 217.7 L847.0 218.9 L850.0 220.0 L852.9 221.2 L855.9 222.4 L858.9 223.6 L861.9 224.8 L864.9 226.0 L867.9 227.2 L870.9 228.4 L873.9 229.7 L876.9 230.9" stroke="#064a8c" stroke-width="3.4" stroke-linecap="round" fill="none"/>
<path d="M159.0 352.1 L162.0 352.3 L165.0 352.4 L168.0 352.5 L171.0 352.6 L174.0 352.7 L177.0 352.9 L180.0 353.0 L183.0 353.1 L186.0 353.3 L189.0 353.4 L192.0 353.6 L195.0 353.7 L198.0 353.9 L201.0 354.0 L204.0 354.2 L207.0 354.4 L210.0 354.5 L213.0 354.7 L216.0 354.9 L219.0 355.1 L222.0 355.3 L225.0 355.5 L228.0 355.7 L231.0 355.9 L234.0 356.1 L237.0 356.3 L240.0 356.5 L243.0 356.8 L246.0 357.0 L249.0 357.2 L252.0 357.5 L255.0 357.7 L258.0 358.0 L261.0 358.3 L264.0 358.5 L267.0 358.8 L270.0 359.1 L273.0 359.4 L276.0 359.7 L279.0 359.9 L282.0 360.3 L285.0 360.6 L288.0 360.9 L291.0 361.2 L294.0 361.5 L297.0 361.9 L300.0 362.2 L303.0 362.6 L306.0 362.9 L309.0 363.3 L312.0 363.7 L315.0 364.1 L318.0 364.4 L321.0 364.8 L324.0 365.2 L327.0 365.6 L330.0 366.1 L333.0 366.5 L336.0 366.9 L339.0 367.4 L342.0 367.8 L345.0 368.3 L348.0 368.7 L351.0 369.2" stroke="#064a8c" stroke-width="2.7" stroke-linecap="round" fill="none"/>
<path d="M346.8 207.7 L349.8 207.1 L352.8 206.4 L355.8 205.8 L358.8 205.1 L361.8 204.5 L364.8 203.9 L367.8 203.3 L370.8 202.7 L373.8 202.1 L376.7 201.5 L379.7 200.9 L382.7 200.4 L385.7 199.8 L388.7 199.2 L391.7 198.7 L394.7 198.2 L397.7 197.6 L400.7 197.1 L403.7 196.6 L406.7 196.1 L409.7 195.6 L412.7 195.1 L415.7 194.6 L418.7 194.1 L421.7 193.6 L424.7 193.1 L427.7 192.7 L430.7 192.2 L433.7 191.7 L436.6 191.3 L439.6 190.8 L442.6 190.4 L445.6 190.0 L448.6 189.5 L451.6 189.1 L454.6 188.7 L457.6 188.3 L460.6 187.9 L463.6 187.5 L466.6 187.1 L469.6 186.7 L472.6 186.3 L475.6 185.9 L478.6 185.6 L481.6 185.2 L484.6 184.9 L487.6 184.5 L490.6 184.2 L493.6 183.8 L496.5 183.5 L499.5 183.2 L502.5 182.9 L505.5 182.6 L508.5 182.3 L511.5 182.0 L514.5 181.7 L517.5 181.4 L520.5 181.1 L523.5 180.9 L526.5 180.6 L529.5 180.4 L532.5 180.1 L535.5 179.9 L538.5 179.7 L541.5 179.4 L544.5 179.2 L547.5 179.0 L550.5 178.8 L553.4 178.6 L556.4 178.4 L559.4 178.3 L562.4 178.1 L565.4 177.9 L568.4 177.8 L571.4 177.6 L574.4 177.5 L577.4 177.4 L580.4 177.3 L583.4 177.1 L586.4 177.0 L589.4 176.9 L592.4 176.8 L595.4 176.8 L598.4 176.7 L601.4 176.6 L604.4 176.6 L607.4 176.5 L610.4 176.5 L613.3 176.5 L616.3 176.4 L619.3 176.4 L622.3 176.4 L625.3 176.4 L628.3 176.4 L631.3 176.4 L634.3 176.5 L637.3 176.5 L640.3 176.6 L643.3 176.6 L646.3 176.7 L649.3 176.8 L652.3 176.8 L655.3 176.9 L658.3 177.0 L661.3 177.1 L664.3 177.3 L667.3 177.4 L670.3 177.5 L673.2 177.7 L676.2 177.8 L679.2 178.0 L682.2 178.2 L685.2 178.3 L688.2 178.5 L691.2 178.7 L694.2 178.9 L697.2 179.2 L700.2 179.4 L703.2 179.6 L706.2 179.9 L709.2 180.2 L712.2 180.4 L715.2 180.7 L718.2 181.0 L721.2 181.3 L724.2 181.6 L727.2 181.9 L730.1 182.3 L733.1 182.6 L736.1 182.9 L739.1 183.3 L742.1 183.7 L745.1 184.1 L748.1 184.4 L751.1 184.8 L754.1 185.3 L757.1 185.7 L760.1 186.1 L763.1 186.6 L766.1 187.0 L769.1 187.5 L772.1 188.0 L775.1 188.4 L778.1 188.9 L781.1 189.4 L784.1 190.0 L787.1 190.5 L790.0 191.0 L793.0 191.6 L796.0 192.2 L799.0 192.7 L802.0 193.3 L805.0 193.9 L808.0 194.5 L811.0 195.1 L814.0 195.8 L817.0 196.4 L820.0 197.1 L823.0 197.7 L826.0 198.4 L829.0 199.1 L832.0 199.8 L835.0 200.5 L838.0 201.2 L841.0 201.9 L844.0 202.7 L847.0 203.4 L849.9 204.2 L852.9 205.0 L855.9 205.8 L858.9 206.6 L861.9 207.4 L864.9 208.2 L867.9 209.1 L870.9 209.9 L873.9 210.8 L876.9 211.7" stroke="#000" stroke-width="2.2" stroke-linecap="round" fill="none"/>
<path d="M346.8 223.5 L349.8 222.8 L352.8 222.2 L355.8 221.5 L358.8 220.8 L361.8 220.2 L364.8 219.5 L367.8 218.9 L370.8 218.3 L373.8 217.7 L376.7 217.1 L379.7 216.5 L382.7 215.9 L385.7 215.3 L388.7 214.8 L391.7 214.2 L394.7 213.7 L397.7 213.1 L400.7 212.6 L403.7 212.1 L406.7 211.6 L409.7 211.1 L412.7 210.6 L415.7 210.1 L418.7 209.7 L421.7 209.2 L424.7 208.7 L427.7 208.3 L430.7 207.8 L433.7 207.4 L436.6 207.0 L439.6 206.5 L442.6 206.1 L445.6 205.7 L448.6 205.3 L451.6 204.9 L454.6 204.5 L457.6 204.1 L460.6 203.8 L463.6 203.4 L466.6 203.0 L469.6 202.7 L472.6 202.3 L475.6 202.0 L478.6 201.6 L481.6 201.3 L484.6 201.0 L487.6 200.6 L490.6 200.3 L493.6 200.0 L496.5 199.7 L499.5 199.4 L502.5 199.1 L505.5 198.8 L508.5 198.6 L511.5 198.3 L514.5 198.0 L517.5 197.8 L520.5 197.5 L523.5 197.3 L526.5 197.0 L529.5 196.8 L532.5 196.6 L535.5 196.4 L538.5 196.2 L541.5 196.0 L544.5 195.8 L547.5 195.6 L550.5 195.4 L553.4 195.2 L556.4 195.0 L559.4 194.9 L562.4 194.7 L565.4 194.6 L568.4 194.4 L571.4 194.3 L574.4 194.2 L577.4 194.1 L580.4 194.0 L583.4 193.9 L586.4 193.8 L589.4 193.7 L592.4 193.6 L595.4 193.5 L598.4 193.5 L601.4 193.4 L604.4 193.4 L607.4 193.3 L610.4 193.3 L613.3 193.2 L616.3 193.2 L619.3 193.2 L622.3 193.2 L625.3 193.2 L628.3 193.2 L631.3 193.3 L634.3 193.3 L637.3 193.3 L640.3 193.4 L643.3 193.4 L646.3 193.5 L649.3 193.5 L652.3 193.6 L655.3 193.7 L658.3 193.8 L661.3 193.9 L664.3 194.0 L667.3 194.1 L670.3 194.3 L673.2 194.4 L676.2 194.5 L679.2 194.7 L682.2 194.9 L685.2 195.0 L688.2 195.2 L691.2 195.4 L694.2 195.6 L697.2 195.8 L700.2 196.0 L703.2 196.2 L706.2 196.5 L709.2 196.7 L712.2 196.9 L715.2 197.2 L718.2 197.5 L721.2 197.7 L724.2 198.0 L727.2 198.3 L730.1 198.6 L733.1 198.9 L736.1 199.2 L739.1 199.6 L742.1 199.9 L745.1 200.3 L748.1 200.6 L751.1 201.0 L754.1 201.4 L757.1 201.8 L760.1 202.1 L763.1 202.5 L766.1 203.0 L769.1 203.4 L772.1 203.8 L775.1 204.3 L778.1 204.7 L781.1 205.2 L784.1 205.6 L787.1 206.1 L790.0 206.6 L793.0 207.1 L796.0 207.6 L799.0 208.2 L802.0 208.7 L805.0 209.2 L808.0 209.8 L811.0 210.3 L814.0 210.9 L817.0 211.5 L820.0 212.1 L823.0 212.7 L826.0 213.3 L829.0 213.9 L832.0 214.5 L835.0 215.2 L838.0 215.8 L841.0 216.5 L844.0 217.2 L847.0 217.9 L849.9 218.5 L852.9 219.3 L855.9 220.0 L858.9 220.7 L861.9 221.4 L864.9 222.2 L867.9 222.9 L870.9 223.7 L873.9 224.5 L876.9 225.3" stroke="#000" stroke-width="3.6" stroke-linecap="round" fill="none"/>
<path d="M158.9 278.2 L161.9 276.4 L164.9 274.6 L167.9 272.8 L170.9 271.2 L174.0 269.5 L177.0 268.0 L180.0 266.5 L183.0 265.0 L186.0 263.6 L189.0 262.2 L192.0 260.9 L195.0 259.7 L198.0 258.5 L201.1 257.3 L204.1 256.2 L207.1 255.2 L210.1 254.2 L213.1 253.2 L216.1 252.3 L219.1 251.5 L222.1 250.7 L225.1 249.9 L228.2 249.2 L231.2 248.5 L234.2 247.9 L237.2 247.3 L240.2 246.8 L243.2 246.4 L246.2 245.9 L249.2 245.6 L252.2 245.3 L255.2 245.0 L258.3 244.8 L261.3 244.6 L264.3 244.5 L267.3 244.5 L270.3 244.5 L273.3 244.5 L276.3 244.6 L279.3 244.8 L282.3 245.0 L285.4 245.3 L288.4 245.6 L291.4 246.0 L294.4 246.4 L297.4 246.9 L300.4 247.4 L303.4 248.0 L306.4 248.6 L309.4 249.3 L312.5 250.1 L315.5 250.9 L318.5 251.8 L321.5 252.7 L324.5 253.7 L327.5 254.7 L330.5 255.8 L333.5 257.0 L336.5 258.2 L339.6 259.4 L342.6 260.8 L345.6 262.2 L348.6 263.6 L351.6 265.1" stroke="#000" stroke-width="2.5" stroke-linecap="round" fill="none"/>
<circle cx="656.6" cy="154.0" r="6.2" fill="#ffff00" stroke="#ff0000" stroke-width="1.8"/>
<path d="M51.6 154.0H656.4" stroke="#000" stroke-opacity="0.32" stroke-width="2" fill="none"/>
<path d="M656.5 154.0V390.4" stroke="#333" stroke-width="1.1" fill="none"/>
<path d="M51.6 390.4 L55.6 390.4 L59.6 390.4 L63.6 390.3 L67.6 390.2 L71.6 390.1 L75.6 390.0 L79.6 389.9 L83.6 389.7 L87.6 389.6 L91.7 389.4 L95.7 389.1 L99.7 388.9 L103.7 388.6 L107.7 388.4 L111.7 388.1 L115.7 387.7 L119.7 387.4 L123.7 387.0 L127.7 386.7 L131.7 386.3 L135.7 385.8 L139.7 385.4 L143.7 384.9 L147.7 384.4 L151.7 383.9 L155.7 383.4 L159.7 382.8 L163.7 382.3 L167.8 381.7 L171.8 381.1 L175.8 380.4 L179.8 379.8 L183.8 379.1 L187.8 378.4 L191.8 377.7 L195.8 377.0 L199.8 376.2 L203.8 375.4 L207.8 374.6 L211.8 373.8 L215.8 373.0 L219.8 372.1 L223.8 371.2 L227.8 370.3 L231.8 369.4 L235.8 368.5 L239.8 367.5 L243.9 366.5 L247.9 365.5 L251.9 364.5 L255.9 363.4 L259.9 362.4 L263.9 361.3 L267.9 360.2 L271.9 359.0 L275.9 357.9 L279.9 356.7 L283.9 355.5 L287.9 354.3 L291.9 353.1 L295.9 351.8 L299.9 350.5 L303.9 349.2 L307.9 347.9 L311.9 346.6 L315.9 345.2 L320.0 343.9 L324.0 342.5 L328.0 341.0 L332.0 339.6 L336.0 338.1 L340.0 336.6 L344.0 335.1 L348.0 333.6 L352.0 332.1 L356.0 330.5 L360.0 328.9 L364.0 327.3 L368.0 325.7 L372.0 324.0 L376.0 322.4 L380.0 320.7 L384.0 319.0 L388.0 317.2 L392.1 315.5 L396.1 313.7 L400.1 311.9 L404.1 310.1 L408.1 308.3 L412.1 306.4 L416.1 304.5 L420.1 302.6 L424.1 300.7 L428.1 298.8 L432.1 296.8 L436.1 294.8 L440.1 292.8 L444.1 290.8 L448.1 288.8 L452.1 286.7 L456.1 284.6 L460.1 282.5 L464.1 280.4 L468.2 278.3 L472.2 276.1 L476.2 273.9 L480.2 271.7 L484.2 269.5 L488.2 267.2 L492.2 264.9 L496.2 262.6 L500.2 260.3 L504.2 258.0 L508.2 255.6 L512.2 253.3 L516.2 250.9 L520.2 248.5 L524.2 246.0 L528.2 243.6 L532.2 241.1 L536.2 238.6 L540.2 236.1 L544.3 233.5 L548.3 231.0 L552.3 228.4 L556.3 225.8 L560.3 223.2 L564.3 220.5 L568.3 217.9 L572.3 215.2 L576.3 212.5 L580.3 209.7 L584.3 207.0 L588.3 204.2 L592.3 201.4 L596.3 198.6 L600.3 195.8 L604.3 192.9 L608.3 190.1 L612.3 187.2 L616.3 184.3 L620.4 181.3 L624.4 178.4 L628.4 175.4 L632.4 172.4 L636.4 169.4 L640.4 166.3 L644.4 163.3 L648.4 160.2 L652.4 157.1 L656.4 154.0" stroke="#f03030" stroke-width="1" fill="none"/>
<circle cx="656.4" cy="176.1" r="6.3" fill="#ff0000"/>
<circle cx="656.4" cy="193.2" r="6.3" fill="#ff0000"/>
<path d="M51.6 677.7H346.5" stroke="#222" stroke-width="0.9" fill="none"/>
<path d="M51.6 650.2 L54.6 649.9 L57.6 649.7 L60.6 649.4 L63.6 649.1 L66.6 648.8 L69.7 648.5 L72.7 648.3 L75.7 648.0 L78.7 647.7 L81.7 647.4 L84.7 647.1 L87.7 646.7 L90.7 646.4 L93.7 646.1 L96.7 645.8 L99.7 645.5 L102.8 645.1 L105.8 644.8 L108.8 644.5 L111.8 644.1 L114.8 643.8 L117.8 643.5 L120.8 643.1 L123.8 642.8 L126.8 642.4 L129.8 642.0 L132.8 641.7 L135.9 641.3 L138.9 641.0 L141.9 640.6 L144.9 640.2 L147.9 639.8 L150.9 639.5 L153.9 639.1 L156.9 638.7 L159.9 638.3 L162.9 637.9 L165.9 637.6 L169.0 637.2 L172.0 636.8 L175.0 636.4 L178.0 636.0 L181.0 635.6 L184.0 635.2 L187.0 634.8 L190.0 634.4 L193.0 634.0 L196.0 633.6 L199.0 633.2 L202.1 632.8 L205.1 632.3 L208.1 631.9 L211.1 631.5 L214.1 631.1 L217.1 630.7 L220.1 630.3 L223.1 629.8 L226.1 629.4 L229.1 629.0 L232.2 628.6 L235.2 628.1 L238.2 627.7 L241.2 627.3 L244.2 626.9 L247.2 626.4 L250.2 626.0 L253.2 625.6 L256.2 625.1 L259.2 624.7 L262.2 624.3 L265.3 623.8 L268.3 623.4 L271.3 623.0 L274.3 622.5 L277.3 622.1 L280.3 621.7 L283.3 621.2 L286.3 620.8 L289.3 620.4 L292.3 619.9 L295.3 619.5 L298.4 619.0 L301.4 618.6 L304.4 618.2 L307.4 617.7 L310.4 617.3 L313.4 616.9 L316.4 616.4 L319.4 616.0 L322.4 615.6 L325.4 615.1 L328.4 614.7 L331.5 614.3 L334.5 613.8 L337.5 613.4 L340.5 613.0 L343.5 612.6 L346.5 612.1" stroke="#064a8c" stroke-opacity="0.85" stroke-width="1" fill="none"/>
<path d="M51.6 655.8 L54.6 655.5 L57.6 655.2 L60.6 654.9 L63.6 654.6 L66.6 654.3 L69.7 654.1 L72.7 653.8 L75.7 653.5 L78.7 653.2 L81.7 652.9 L84.7 652.6 L87.7 652.3 L90.7 651.9 L93.7 651.6 L96.7 651.3 L99.7 651.0 L102.8 650.7 L105.8 650.4 L108.8 650.0 L111.8 649.7 L114.8 649.4 L117.8 649.1 L120.8 648.7 L123.8 648.4 L126.8 648.1 L129.8 647.7 L132.8 647.4 L135.9 647.0 L138.9 646.7 L141.9 646.3 L144.9 646.0 L147.9 645.6 L150.9 645.3 L153.9 644.9 L156.9 644.6 L159.9 644.2 L162.9 643.8 L165.9 643.5 L169.0 643.1 L172.0 642.7 L175.0 642.4 L178.0 642.0 L181.0 641.6 L184.0 641.3 L187.0 640.9 L190.0 640.5 L193.0 640.1 L196.0 639.7 L199.0 639.4 L202.1 639.0 L205.1 638.6 L208.1 638.2 L211.1 637.8 L214.1 637.4 L217.1 637.0 L220.1 636.6 L223.1 636.3 L226.1 635.9 L229.1 635.5 L232.2 635.1 L235.2 634.7 L238.2 634.3 L241.2 633.9 L244.2 633.5 L247.2 633.1 L250.2 632.7 L253.2 632.2 L256.2 631.8 L259.2 631.4 L262.2 631.0 L265.3 630.6 L268.3 630.2 L271.3 629.8 L274.3 629.4 L277.3 629.0 L280.3 628.5 L283.3 628.1 L286.3 627.7 L289.3 627.3 L292.3 626.9 L295.3 626.5 L298.4 626.0 L301.4 625.6 L304.4 625.2 L307.4 624.8 L310.4 624.4 L313.4 623.9 L316.4 623.5 L319.4 623.1 L322.4 622.7 L325.4 622.2 L328.4 621.8 L331.5 621.4 L334.5 621.0 L337.5 620.5 L340.5 620.1 L343.5 619.7 L346.5 619.3" stroke="#064a8c" stroke-opacity="0.85" stroke-width="1" fill="none"/>
<path d="M51.6 688.7 L54.6 688.7 L57.5 688.6 L60.5 688.6 L63.5 688.5 L66.4 688.5 L69.4 688.5 L72.4 688.4 L75.3 688.4 L78.3 688.3 L81.3 688.3 L84.2 688.2 L87.2 688.2 L90.2 688.1 L93.1 688.1 L96.1 688.1 L99.1 688.0 L102.0 687.9 L105.0 687.9 L108.0 687.8 L110.9 687.8 L113.9 687.7 L116.9 687.7 L119.8 687.6 L122.8 687.6 L125.8 687.5 L128.7 687.5 L131.7 687.4 L134.7 687.4 L137.6 687.3 L140.6 687.2 L143.6 687.2 L146.5 687.1 L149.5 687.1 L152.5 687.0 L155.4 687.0 L158.4 686.9" stroke="#064a8c" stroke-opacity="0.85" stroke-width="1" fill="none"/>
<path d="M51.6 689.6 L54.6 689.6 L57.6 689.5 L60.6 689.5 L63.6 689.5 L66.6 689.4 L69.6 689.4 L72.6 689.3 L75.6 689.3 L78.6 689.2 L81.6 689.2 L84.6 689.2 L87.6 689.1 L90.6 689.1 L93.6 689.0 L96.6 689.0 L99.6 688.9 L102.6 688.9 L105.6 688.8 L108.6 688.8 L111.6 688.7 L114.6 688.7 L117.6 688.6 L120.6 688.6 L123.6 688.5 L126.6 688.5 L129.6 688.4 L132.6 688.4 L135.6 688.3 L138.6 688.3 L141.6 688.2 L144.6 688.2 L147.6 688.1 L150.6 688.0 L153.6 688.0 L156.6 687.9 L159.6 687.9 L162.6 687.8 L165.6 687.8 L168.6 687.7 L171.6 687.7 L174.6 687.6 L177.6 687.6 L180.6 687.5 L183.6 687.5 L186.6 687.4 L189.6 687.4 L192.6 687.3 L195.6 687.3 L198.6 687.2 L201.6 687.2 L204.6 687.1 L207.6 687.1 L210.6 687.1 L213.6 687.0 L216.6 687.0 L219.6 686.9 L222.6 686.9 L225.6 686.9 L228.6 686.8 L231.6 686.8 L234.6 686.8 L237.6 686.7 L240.6 686.7 L243.6 686.7 L246.6 686.6 L249.6 686.6 L252.6 686.6 L255.6 686.5 L258.6 686.5 L261.6 686.5 L264.6 686.5 L267.6 686.5 L270.6 686.4 L273.6 686.4 L276.6 686.4 L279.6 686.4 L282.6 686.3 L285.6 686.3 L288.6 686.3 L291.6 686.3 L294.6 686.3 L297.6 686.2 L300.6 686.2 L303.6 686.2 L306.6 686.2 L309.6 686.2 L312.6 686.2 L315.6 686.1 L318.6 686.1 L321.6 686.1 L324.6 686.1 L327.6 686.1 L330.6 686.1 L333.6 686.0 L336.6 686.0 L339.6 686.0 L342.6 686.0 L345.6 686.0 L348.6 686.0 L351.6 686.0" stroke="#064a8c" stroke-opacity="0.85" stroke-width="1" fill="none"/>
<path d="M158.4 690.1 L161.4 690.1 L164.4 690.1 L167.5 690.1 L170.5 690.1 L173.5 690.1 L176.5 690.1 L179.5 690.1 L182.6 690.0 L185.6 690.0 L188.6 690.0 L191.6 690.0 L194.6 690.0 L197.6 689.9 L200.7 689.9 L203.7 689.9 L206.7 689.8 L209.7 689.8 L212.7 689.8 L215.8 689.8 L218.8 689.7 L221.8 689.7 L224.8 689.7 L227.8 689.6 L230.9 689.6 L233.9 689.6 L236.9 689.5 L239.9 689.5 L242.9 689.5 L245.9 689.4 L249.0 689.4 L252.0 689.3 L255.0 689.3 L258.0 689.2 L261.0 689.2 L264.1 689.1 L267.1 689.0 L270.1 688.9 L273.1 688.9 L276.1 688.8 L279.2 688.7 L282.2 688.6 L285.2 688.5 L288.2 688.4 L291.2 688.3 L294.2 688.1 L297.3 688.0 L300.3 687.9 L303.3 687.8 L306.3 687.6 L309.3 687.5 L312.4 687.4 L315.4 687.2 L318.4 687.1 L321.4 687.0 L324.4 686.8 L327.5 686.7 L330.5 686.5 L333.5 686.4 L336.5 686.2 L339.5 686.0 L342.5 685.9 L345.6 685.7 L348.6 685.6 L351.6 685.4" stroke="#000" stroke-width="2.8" stroke-linecap="round" fill="none"/>
<path d="M158.4 686.9 L161.4 686.9 L164.4 686.8 L167.5 686.8 L170.5 686.7 L173.5 686.6 L176.5 686.6 L179.5 686.5 L182.6 686.5 L185.6 686.4 L188.6 686.4 L191.6 686.3 L194.6 686.3 L197.6 686.2 L200.7 686.2 L203.7 686.2 L206.7 686.1 L209.7 686.1 L212.7 686.0 L215.8 686.0 L218.8 685.9 L221.8 685.9 L224.8 685.9 L227.8 685.8 L230.9 685.8 L233.9 685.7 L236.9 685.7 L239.9 685.7 L242.9 685.6 L245.9 685.6 L249.0 685.6 L252.0 685.5 L255.0 685.5 L258.0 685.5 L261.0 685.5 L264.1 685.4 L267.1 685.4 L270.1 685.4 L273.1 685.3 L276.1 685.3 L279.2 685.3 L282.2 685.3 L285.2 685.3 L288.2 685.2 L291.2 685.2 L294.2 685.2 L297.3 685.2 L300.3 685.1 L303.3 685.1 L306.3 685.1 L309.3 685.1 L312.4 685.1 L315.4 685.1 L318.4 685.0 L321.4 685.0 L324.4 685.0 L327.5 685.0 L330.5 685.0 L333.5 685.0 L336.5 684.9 L339.5 684.9 L342.5 684.9 L345.6 684.9 L348.6 684.9 L351.6 684.9" stroke="#064a8c" stroke-width="2.6" stroke-linecap="round" fill="none"/>
<path d="M346.5 612.1 L349.5 611.7 L352.5 611.3 L355.5 610.9 L358.5 610.4 L361.5 610.0 L364.5 609.6 L367.5 609.2 L370.5 608.8 L373.5 608.4 L376.5 607.9 L379.5 607.5 L382.5 607.1 L385.5 606.7 L388.5 606.3 L391.5 605.9 L394.5 605.5 L397.5 605.1 L400.5 604.7 L403.5 604.3 L406.5 603.9 L409.5 603.5 L412.5 603.1 L415.5 602.7 L418.5 602.3 L421.5 602.0 L424.5 601.6 L427.5 601.2 L430.5 600.8 L433.5 600.4 L436.4 600.1 L439.4 599.7 L442.4 599.3 L445.4 599.0 L448.4 598.6 L451.4 598.2 L454.4 597.9 L457.4 597.5 L460.4 597.1 L463.4 596.8 L466.4 596.4 L469.4 596.1 L472.4 595.7 L475.4 595.4 L478.4 595.1 L481.4 594.7 L484.4 594.4 L487.4 594.0 L490.4 593.7 L493.4 593.4 L496.4 593.0 L499.4 592.7 L502.4 592.4 L505.4 592.1 L508.4 591.7 L511.4 591.4 L514.4 591.1 L517.4 590.8 L520.4 590.5 L523.4 590.2 L526.4 589.9 L529.4 589.6 L532.4 589.3 L535.4 589.0 L538.4 588.7 L541.4 588.4 L544.4 588.1 L547.4 587.8 L550.4 587.5 L553.4 587.2 L556.4 587.0 L559.4 586.7 L562.4 586.4 L565.4 586.1 L568.4 585.9 L571.4 585.6 L574.4 585.3 L577.4 585.1 L580.4 584.8 L583.4 584.5 L586.4 584.3 L589.4 584.0 L592.4 583.8 L595.4 583.5 L598.4 583.3 L601.4 583.0 L604.4 582.8 L607.4 582.6 L610.4 582.3 L613.3 582.1 L616.3 581.9 L619.3 581.6 L622.3 581.4 L625.3 581.2 L628.3 581.0 L631.3 580.7 L634.3 580.5 L637.3 580.3 L640.3 580.1 L643.3 579.9 L646.3 579.7 L649.3 579.4 L652.3 579.2 L655.3 579.0 L658.3 578.8 L661.3 578.6 L664.3 578.4 L667.3 578.2 L670.3 578.0 L673.3 577.9 L676.3 577.7 L679.3 577.5 L682.3 577.3 L685.3 577.1 L688.3 576.9 L691.3 576.7 L694.3 576.6 L697.3 576.4 L700.3 576.2 L703.3 576.0 L706.3 575.9 L709.3 575.7 L712.3 575.5 L715.3 575.4 L718.3 575.2 L721.3 575.0 L724.3 574.9 L727.3 574.7 L730.3 574.6 L733.3 574.4 L736.3 574.2 L739.3 574.1 L742.3 573.9 L745.3 573.8 L748.3 573.6 L751.3 573.5 L754.3 573.4 L757.3 573.2 L760.3 573.1 L763.3 572.9 L766.3 572.8 L769.3 572.7 L772.3 572.5 L775.3 572.4 L778.3 572.2 L781.3 572.1 L784.3 572.0 L787.3 571.9 L790.2 571.7 L793.2 571.6 L796.2 571.5 L799.2 571.4 L802.2 571.2 L805.2 571.1 L808.2 571.0 L811.2 570.9 L814.2 570.8 L817.2 570.6 L820.2 570.5 L823.2 570.4 L826.2 570.3 L829.2 570.2 L832.2 570.1 L835.2 570.0 L838.2 569.9 L841.2 569.8 L844.2 569.7 L847.2 569.5 L850.2 569.4 L853.2 569.3 L856.2 569.2 L859.2 569.1 L862.2 569.0 L865.2 568.9 L868.2 568.8 L871.2 568.7 L874.2 568.7 L877.2 568.6" stroke="#064a8c" stroke-width="3.6" stroke-linecap="round" fill="none"/>
<path d="M346.5 619.3 L349.5 618.8 L352.5 618.4 L355.5 618.0 L358.5 617.6 L361.5 617.1 L364.5 616.7 L367.5 616.3 L370.5 615.9 L373.5 615.5 L376.5 615.0 L379.5 614.6 L382.5 614.2 L385.5 613.8 L388.5 613.4 L391.5 613.0 L394.5 612.6 L397.5 612.2 L400.5 611.8 L403.5 611.4 L406.5 611.0 L409.5 610.6 L412.5 610.2 L415.5 609.8 L418.5 609.4 L421.5 609.1 L424.5 608.7 L427.5 608.3 L430.5 607.9 L433.5 607.6 L436.4 607.2 L439.4 606.9 L442.4 606.5 L445.4 606.1 L448.4 605.8 L451.4 605.4 L454.4 605.1 L457.4 604.8 L460.4 604.4 L463.4 604.1 L466.4 603.7 L469.4 603.4 L472.4 603.1 L475.4 602.7 L478.4 602.4 L481.4 602.1 L484.4 601.8 L487.4 601.5 L490.4 601.1 L493.4 600.8 L496.4 600.5 L499.4 600.2 L502.4 599.9 L505.4 599.6 L508.4 599.3 L511.4 599.0 L514.4 598.7 L517.4 598.4 L520.4 598.1 L523.4 597.8 L526.4 597.5 L529.4 597.2 L532.4 596.9 L535.4 596.6 L538.4 596.3 L541.4 596.0 L544.4 595.8 L547.4 595.5 L550.4 595.2 L553.4 594.9 L556.4 594.7 L559.4 594.4 L562.4 594.1 L565.4 593.9 L568.4 593.6 L571.4 593.4 L574.4 593.1 L577.4 592.9 L580.4 592.7 L583.4 592.4 L586.4 592.2 L589.4 592.0 L592.4 591.7 L595.4 591.5 L598.4 591.3 L601.4 591.1 L604.4 590.9 L607.4 590.7 L610.4 590.5 L613.3 590.3 L616.3 590.1 L619.3 589.9 L622.3 589.7 L625.3 589.6 L628.3 589.4 L631.3 589.2 L634.3 589.0 L637.3 588.9 L640.3 588.7 L643.3 588.5 L646.3 588.3 L649.3 588.2 L652.3 588.0 L655.3 587.9 L658.3 587.7 L661.3 587.5 L664.3 587.4 L667.3 587.2 L670.3 587.0 L673.3 586.9 L676.3 586.7 L679.3 586.6 L682.3 586.4 L685.3 586.2 L688.3 586.1 L691.3 585.9 L694.3 585.7 L697.3 585.6 L700.3 585.4 L703.3 585.3 L706.3 585.1 L709.3 584.9 L712.3 584.8 L715.3 584.6 L718.3 584.5 L721.3 584.3 L724.3 584.2 L727.3 584.0 L730.3 583.9 L733.3 583.7 L736.3 583.5 L739.3 583.4 L742.3 583.3 L745.3 583.1 L748.3 583.0 L751.3 582.8 L754.3 582.7 L757.3 582.5 L760.3 582.4 L763.3 582.2 L766.3 582.1 L769.3 582.0 L772.3 581.8 L775.3 581.7 L778.3 581.6 L781.3 581.4 L784.3 581.3 L787.3 581.2 L790.2 581.1 L793.2 580.9 L796.2 580.8 L799.2 580.7 L802.2 580.6 L805.2 580.5 L808.2 580.4 L811.2 580.3 L814.2 580.1 L817.2 580.0 L820.2 579.9 L823.2 579.8 L826.2 579.7 L829.2 579.6 L832.2 579.5 L835.2 579.4 L838.2 579.3 L841.2 579.3 L844.2 579.2 L847.2 579.1 L850.2 579.0 L853.2 578.9 L856.2 578.9 L859.2 578.8 L862.2 578.7 L865.2 578.6 L868.2 578.6 L871.2 578.5 L874.2 578.5 L877.2 578.4" stroke="#064a8c" stroke-width="2.2" stroke-linecap="round" fill="none"/>
<path d="M346.5 677.7 L349.5 677.7 L352.5 677.7 L355.5 677.7 L358.5 677.7 L361.5 677.6 L364.5 677.6 L367.5 677.6 L370.5 677.6 L373.5 677.6 L376.5 677.5 L379.5 677.5 L382.5 677.5 L385.5 677.5 L388.5 677.4 L391.5 677.4 L394.5 677.3 L397.5 677.3 L400.5 677.3 L403.5 677.2 L406.5 677.2 L409.5 677.1 L412.5 677.1 L415.5 677.0 L418.5 677.0 L421.5 676.9 L424.5 676.9 L427.5 676.8 L430.5 676.7 L433.5 676.7 L436.4 676.6 L439.4 676.5 L442.4 676.5 L445.4 676.4 L448.4 676.3 L451.4 676.3 L454.4 676.2 L457.4 676.1 L460.4 676.1 L463.4 676.0 L466.4 675.9 L469.4 675.8 L472.4 675.8 L475.4 675.7 L478.4 675.6 L481.4 675.5 L484.4 675.5 L487.4 675.4 L490.4 675.3 L493.4 675.2 L496.4 675.1 L499.4 675.1 L502.4 675.0 L505.4 674.9 L508.4 674.8 L511.4 674.7 L514.4 674.7 L517.4 674.6 L520.4 674.5 L523.4 674.4 L526.4 674.3 L529.4 674.2 L532.4 674.2 L535.4 674.1 L538.4 674.0 L541.4 673.9 L544.4 673.8 L547.4 673.7 L550.4 673.6 L553.4 673.5 L556.4 673.4 L559.4 673.3 L562.4 673.2 L565.4 673.1 L568.4 673.0 L571.4 672.9 L574.4 672.8 L577.4 672.7 L580.4 672.6 L583.4 672.5 L586.4 672.3 L589.4 672.2 L592.4 672.1 L595.4 672.0 L598.4 671.8 L601.4 671.7 L604.4 671.5 L607.4 671.4 L610.4 671.3 L613.3 671.1 L616.3 670.9 L619.3 670.8 L622.3 670.6 L625.3 670.4 L628.3 670.3 L631.3 670.1 L634.3 669.9 L637.3 669.7 L640.3 669.5 L643.3 669.3 L646.3 669.1 L649.3 668.9 L652.3 668.7 L655.3 668.5 L658.3 668.3 L661.3 668.0 L664.3 667.8 L667.3 667.6 L670.3 667.3 L673.3 667.1 L676.3 666.8 L679.3 666.5 L682.3 666.3 L685.3 666.0 L688.3 665.7 L691.3 665.4 L694.3 665.2 L697.3 664.9 L700.3 664.6 L703.3 664.3 L706.3 664.0 L709.3 663.7 L712.3 663.3 L715.3 663.0 L718.3 662.7 L721.3 662.4 L724.3 662.1 L727.3 661.7 L730.3 661.4 L733.3 661.0 L736.3 660.7 L739.3 660.3 L742.3 660.0 L745.3 659.6 L748.3 659.3 L751.3 658.9 L754.3 658.5 L757.3 658.2 L760.3 657.8 L763.3 657.4 L766.3 657.1 L769.3 656.7 L772.3 656.3 L775.3 655.9 L778.3 655.5 L781.3 655.1 L784.3 654.7 L787.3 654.3 L790.2 653.9 L793.2 653.5 L796.2 653.1 L799.2 652.7 L802.2 652.3 L805.2 651.9 L808.2 651.5 L811.2 651.1 L814.2 650.6 L817.2 650.2 L820.2 649.8 L823.2 649.4 L826.2 649.0 L829.2 648.5 L832.2 648.1 L835.2 647.7 L838.2 647.3 L841.2 646.8 L844.2 646.4 L847.2 646.0 L850.2 645.5 L853.2 645.1 L856.2 644.7 L859.2 644.2 L862.2 643.8 L865.2 643.4 L868.2 642.9 L871.2 642.5 L874.2 642.1 L877.2 641.6" stroke="#000" stroke-width="3.6" stroke-linecap="round" fill="none"/>
<circle cx="656.4" cy="579.2" r="6.2" fill="#ff0000"/>
<circle cx="656.4" cy="588.6" r="6.2" fill="#ff0000"/>
<circle cx="656.4" cy="668.8" r="6.2" fill="#ff0000"/>
<path d="M51.25 0V391.1M51.25 518V693M44 390.45H966.3M44 692.2H966.3" stroke="#000" stroke-width="1.6" fill="none"/>
<path d="M959 0V391.2M959 518V693.1" stroke="#000" stroke-width="2.1" fill="none"/>
<path d="M44 360.4H51.5M44 330.4H51.5M44 300.4H51.5M44 270.4H51.5M44 240.4H51.5M44 210.4H51.5M44 180.4H51.5M44 150.4H51.5M44 120.4H51.5M44 90.4H51.5M44 60.4H51.5M959.0 360.4H966.3M959.0 330.4H966.3M959.0 300.4H966.3M959.0 270.4H966.3M959.0 240.4H966.3M959.0 210.4H966.3M959.0 180.4H966.3M959.0 150.4H966.3M959.0 120.4H966.3M959.0 90.4H966.3M51.2 390.4V397.7M102.1 390.4V397.7M152.9 390.4V397.7M203.8 390.4V397.7M254.7 390.4V397.7M305.5 390.4V397.7M356.4 390.4V397.7M407.2 390.4V397.7M458.1 390.4V397.7M508.9 390.4V397.7M559.8 390.4V397.7M610.6 390.4V397.7M661.5 390.4V397.7M712.3 390.4V397.7M763.1 390.4V397.7M814.0 390.4V397.7M864.9 390.4V397.7M915.7 390.4V397.7M44 663.2H51.5M959.0 663.2H966.3M44 634.2H51.5M959.0 634.2H966.3M44 605.2H51.5M959.0 605.2H966.3M44 576.2H51.5M959.0 576.2H966.3M44 547.2H51.5M959.0 547.2H966.3" stroke="#000" stroke-width="1.5" fill="none"/>
<rect x="782.6" y="-2" width="176.4" height="30.8" fill="#fff" stroke="#444" stroke-width="1"/>
<path d="M50.5 0.5H960" stroke="#a0a0a0" stroke-width="1" fill="none"/>
<g font-family="Liberation Sans, Arial, Helvetica, sans-serif" font-size="16px"><text x="788.8" y="19.0" text-anchor="start" fill="#000" textLength="152.2" lengthAdjust="spacing">CRNE 15-2, 3*500 V</text><text x="30.5" y="15.0" text-anchor="middle" fill="#000">H</text><text x="18.9" y="35.0" text-anchor="start" fill="#000" textLength="23.0" lengthAdjust="spacing">[m]</text><text x="39.0" y="394.5" text-anchor="end" fill="#000">0</text><text x="39.0" y="364.5" text-anchor="end" fill="#000">5</text><text x="39.0" y="334.5" text-anchor="end" fill="#000">10</text><text x="39.0" y="304.5" text-anchor="end" fill="#000">15</text><text x="39.0" y="274.5" text-anchor="end" fill="#000">20</text><text x="39.0" y="244.5" text-anchor="end" fill="#000">25</text><text x="39.0" y="214.5" text-anchor="end" fill="#000">30</text><text x="39.0" y="184.5" text-anchor="end" fill="#000">35</text><text x="39.0" y="154.5" text-anchor="end" fill="#000">40</text><text x="39.0" y="124.5" text-anchor="end" fill="#000">45</text><text x="39.0" y="94.5" text-anchor="end" fill="#000">50</text><text x="39.0" y="64.5" text-anchor="end" fill="#000">55</text><text x="969.7" y="15.0" text-anchor="start" fill="#000" textLength="22.8" lengthAdjust="spacing">eta</text><text x="969.5" y="35.0" text-anchor="start" fill="#000" textLength="23.6" lengthAdjust="spacing">[%]</text><text x="970.8" y="394.5" text-anchor="start" fill="#000">0</text><text x="970.8" y="364.5" text-anchor="start" fill="#000">10</text><text x="970.8" y="334.5" text-anchor="start" fill="#000">20</text><text x="970.8" y="304.5" text-anchor="start" fill="#000">30</text><text x="970.8" y="274.5" text-anchor="start" fill="#000">40</text><text x="970.8" y="244.5" text-anchor="start" fill="#000">50</text><text x="970.8" y="214.5" text-anchor="start" fill="#000">60</text><text x="970.8" y="184.5" text-anchor="start" fill="#000">70</text><text x="970.8" y="154.5" text-anchor="start" fill="#000">80</text><text x="970.8" y="124.5" text-anchor="start" fill="#000">90</text><text x="970.8" y="94.5" text-anchor="start" fill="#000">100</text><text x="50.8" y="412.7" text-anchor="middle" fill="#000">0</text><text x="101.6" y="412.7" text-anchor="middle" fill="#000">2</text><text x="152.4" y="412.7" text-anchor="middle" fill="#000">4</text><text x="203.3" y="412.7" text-anchor="middle" fill="#000">6</text><text x="254.2" y="412.7" text-anchor="middle" fill="#000">8</text><text x="304.3" y="412.7" text-anchor="middle" fill="#000">10</text><text x="355.2" y="412.7" text-anchor="middle" fill="#000">12</text><text x="406.0" y="412.7" text-anchor="middle" fill="#000">14</text><text x="456.9" y="412.7" text-anchor="middle" fill="#000">16</text><text x="507.7" y="412.7" text-anchor="middle" fill="#000">18</text><text x="558.5" y="412.7" text-anchor="middle" fill="#000">20</text><text x="609.4" y="412.7" text-anchor="middle" fill="#000">22</text><text x="660.2" y="412.7" text-anchor="middle" fill="#000">24</text><text x="711.1" y="412.7" text-anchor="middle" fill="#000">26</text><text x="761.9" y="412.7" text-anchor="middle" fill="#000">28</text><text x="812.8" y="412.7" text-anchor="middle" fill="#000">30</text><text x="863.6" y="412.7" text-anchor="middle" fill="#000">32</text><text x="888.5" y="412.7" text-anchor="start" fill="#000" textLength="60.8" lengthAdjust="spacing">Q [m³/h]</text><text x="88.3" y="78.0" text-anchor="start" fill="#000">100 %</text><text x="66.6" y="345.5" text-anchor="start" fill="#000">36 %</text><text x="25.0" y="532.5" text-anchor="middle" fill="#000">P</text><text x="8.2" y="551.6" text-anchor="start" fill="#000" textLength="33.6" lengthAdjust="spacing">[kW]</text><text x="38.0" y="697.0" text-anchor="end" fill="#000">0</text><text x="971.0" y="697.0" text-anchor="start" fill="#000">0</text><text x="38.0" y="668.0" text-anchor="end" fill="#000">1</text><text x="971.0" y="668.0" text-anchor="start" fill="#000">5</text><text x="38.0" y="639.0" text-anchor="end" fill="#000">2</text><text x="971.0" y="639.0" text-anchor="start" fill="#000">10</text><text x="38.0" y="610.0" text-anchor="end" fill="#000">3</text><text x="971.0" y="610.0" text-anchor="start" fill="#000">15</text><text x="38.0" y="581.0" text-anchor="end" fill="#000">4</text><text x="971.0" y="581.0" text-anchor="start" fill="#000">20</text><text x="968.4" y="532.5" text-anchor="start" fill="#000">NPSH</text><text x="979.3" y="551.6" text-anchor="start" fill="#000" textLength="22.7" lengthAdjust="spacing">[m]</text><text x="669.8" y="562.9" text-anchor="start" fill="#1c5490" textLength="194.8" lengthAdjust="spacing">P1 (motor+freq.converter)</text><text x="851.5" y="595.7" text-anchor="start" fill="#1c5490">P2</text><text x="54.3" y="438.9" text-anchor="start" fill="#000" textLength="112.8" lengthAdjust="spacing">Q = 23.81 m³/h</text><text x="54.3" y="460.8" text-anchor="start" fill="#000" textLength="160.3" lengthAdjust="spacing">n = 100 % / 4000 rpm</text><text x="54.3" y="482.3" text-anchor="start" fill="#000" textLength="329.1" lengthAdjust="spacing">Liquid temperature during operation = 20 °C</text><text x="54.3" y="503.9" text-anchor="start" fill="#000" textLength="141.7" lengthAdjust="spacing">Eta pump = 71.4 %</text><text x="440.0" y="438.9" text-anchor="start" fill="#000" textLength="80.9" lengthAdjust="spacing">H = 39.4 m</text><text x="440.0" y="460.8" text-anchor="start" fill="#000" textLength="169.6" lengthAdjust="spacing">Pumped liquid = Water</text><text x="440.0" y="482.3" text-anchor="start" fill="#000" textLength="164.4" lengthAdjust="spacing">Density = 998.2 kg/m³</text><text x="440.0" y="503.9" text-anchor="start" fill="#000" textLength="309.9" lengthAdjust="spacing">Eta pump+motor+freq.converter = 65.7 %</text><text x="54.3" y="719.2" text-anchor="start" fill="#000" textLength="277.9" lengthAdjust="spacing">P1 (motor+freq.converter) = 3.88 kW</text><text x="54.3" y="739.8" text-anchor="start" fill="#000" textLength="110.2" lengthAdjust="spacing">P2 = 3.572 kW</text><text x="54.3" y="761.9" text-anchor="start" fill="#000" textLength="116.5" lengthAdjust="spacing">NPSH = 4.06 m</text></g>
</svg>
</body></html>
